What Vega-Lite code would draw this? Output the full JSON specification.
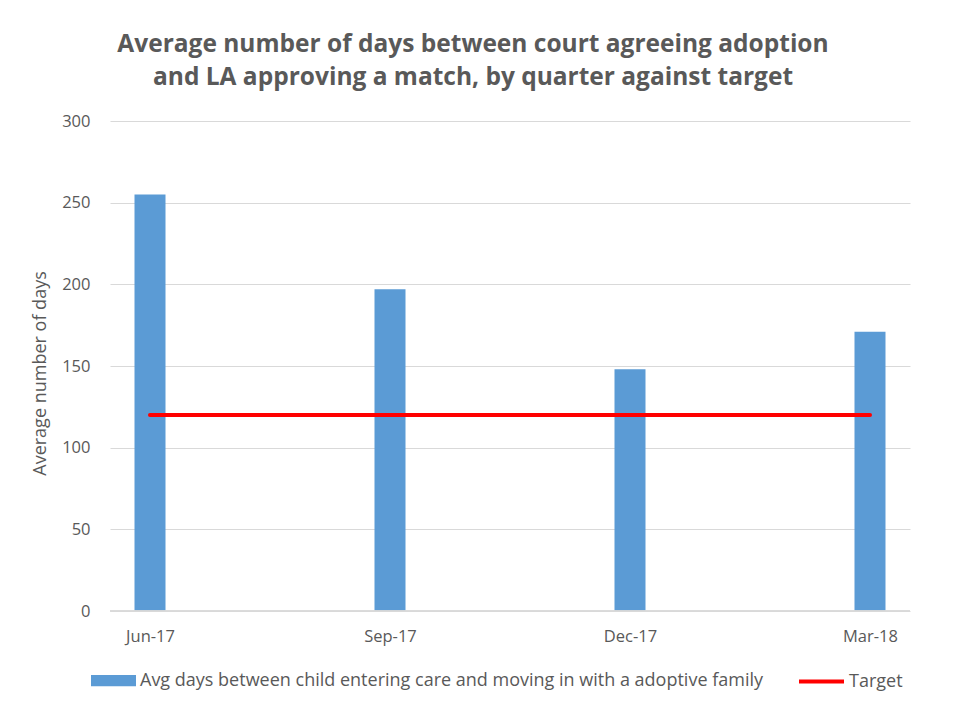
{
  "$schema": "https://vega.github.io/schema/vega-lite/v6.json",
  "width": 800,
  "height": 490,
  "autosize": {"type": "none"},
  "padding": {"left": 110, "top": 121, "right": 61, "bottom": 109},
  "background": "white",
  "title": {
    "text": ["Average number of days between court agreeing adoption", "and LA approving a match, by quarter against target"],
    "font": "Open Sans",
    "fontSize": 24.5,
    "fontWeight": "bold",
    "color": "#595959",
    "lineHeight": 33,
    "anchor": "middle",
    "dx": -37,
    "offset": 23
  },
  "data": {
    "values": [
      {"quarter": "Jun-17", "days": 255, "target": 120},
      {"quarter": "Sep-17", "days": 197, "target": 120},
      {"quarter": "Dec-17", "days": 148, "target": 120},
      {"quarter": "Mar-18", "days": 171, "target": 120}
    ]
  },
  "encoding": {
    "x": {
      "field": "quarter",
      "type": "ordinal",
      "sort": null,
      "scale": {"type": "point", "padding": 0.1667},
      "axis": {
        "title": null,
        "labelAngle": 0,
        "labelFont": "Open Sans",
        "labelFontSize": 16.5,
        "labelColor": "#595959",
        "labelPadding": 17,
        "ticks": false,
        "domain": false,
        "grid": false
      }
    }
  },
  "layer": [
    {
      "mark": {"type": "bar", "width": 31, "color": "#5B9BD5"},
      "encoding": {
        "y": {
          "field": "days",
          "type": "quantitative",
          "scale": {"domain": [0, 300]},
          "axis": {
            "values": [0, 50, 100, 150, 200, 250, 300],
            "title": "Average number of days",
            "titleFont": "Open Sans",
            "titleFontSize": 18,
            "titleFontWeight": "normal",
            "titleColor": "#595959",
            "titleX": -70,
            "titleY": 252,
            "titleAngle": 270,
            "titleAlign": "center",
            "titleBaseline": "middle",
            "labelFont": "Open Sans",
            "labelFontSize": 16.5,
            "labelColor": "#595959",
            "labelPadding": 20,
            "ticks": false,
            "domain": false,
            "gridColor": "#D9D9D9",
            "gridWidth": 1
          }
        },
        "fill": {
          "datum": "Avg days between child entering care and moving in with a adoptive family",
          "type": "nominal",
          "scale": {"range": ["#5B9BD5"]},
          "legend": {
            "title": null,
            "orient": "none",
            "legendX": -19,
            "legendY": 537,
            "symbolType": "M-1,-0.25H1V0.25H-1Z",
            "symbolSize": 2025,
            "symbolStrokeWidth": 0,
            "labelFont": "Open Sans",
            "labelFontSize": 18,
            "labelColor": "#595959",
            "labelOffset": 4,
            "labelLimit": 800
          }
        }
      }
    },
    {
      "mark": {"type": "line", "strokeWidth": 4, "strokeCap": "round"},
      "encoding": {
        "y": {"field": "target", "type": "quantitative"},
        "stroke": {
          "datum": "Target",
          "type": "nominal",
          "scale": {"range": ["#FF0000"]},
          "legend": {
            "title": null,
            "orient": "none",
            "legendX": 687,
            "legendY": 536,
            "symbolType": "stroke",
            "symbolSize": 2025,
            "symbolStrokeWidth": 4,
            "labelFont": "Open Sans",
            "labelFontSize": 18,
            "labelColor": "#595959",
            "labelOffset": 3
          }
        }
      }
    },
    {
      "mark": {"type": "rule", "color": "#D9D9D9", "strokeWidth": 1},
      "encoding": {"y": {"datum": 0}, "x": {"value": 0}, "x2": {"value": 800}}
    }
  ],
  "config": {
    "view": {"stroke": null}
  }
}
